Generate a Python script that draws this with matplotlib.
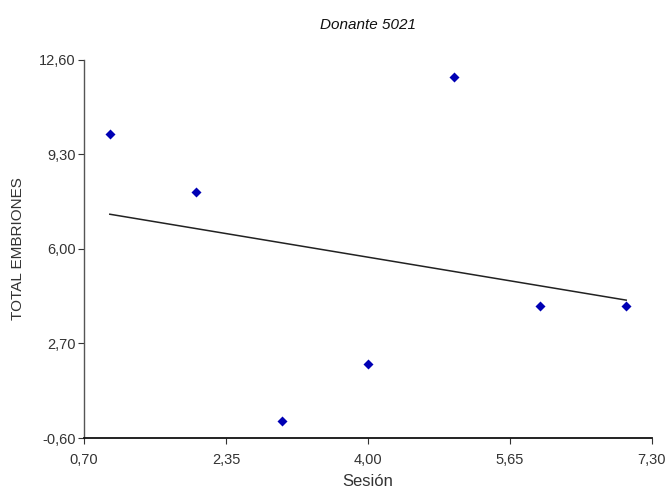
import numpy as np
import matplotlib
matplotlib.use("Agg")
import matplotlib.pyplot as plt

plt.rcParams['font.family'] = ['Liberation Sans', 'DejaVu Sans']

sesion = [1, 2, 3, 4, 5, 6, 7]
total_embriones = [10, 8, 0, 2, 12, 4, 4]
x_ticks = [0.70, 2.35, 4.00, 5.65, 7.30]
y_ticks = [-0.60, 2.70, 6.00, 9.30, 12.60]
title = "Donante 5021"

fig = plt.figure(figsize=(6.65, 4.9), dpi=100)
ax = fig.add_axes([84/665, 1-438/490, (652-84)/665, (438-60)/490])

ax.scatter(sesion, total_embriones, marker='D', s=26, color='#0000b4', zorder=3, linewidths=0)

coef = np.polyfit(sesion, total_embriones, 1)
xl = np.array([min(sesion), max(sesion)])
ax.plot(xl, np.polyval(coef, xl), color='#222222', lw=1.1)

ax.set_xlim(x_ticks[0], x_ticks[-1])
ax.set_ylim(y_ticks[0], y_ticks[-1])
ax.set_xticks(x_ticks)
ax.set_yticks(y_ticks)
fmt = lambda v: f"{v:.2f}".replace('.', ',')
ax.set_xticklabels([fmt(v) for v in x_ticks])
ax.set_yticklabels([fmt(v) for v in y_ticks])

for s in ['top', 'right']:
    ax.spines[s].set_visible(False)
ax.spines['left'].set_color('#555555')
ax.spines['left'].set_linewidth(1.0)
ax.spines['bottom'].set_color('#111111')
ax.spines['bottom'].set_linewidth(1.3)
ax.tick_params(axis='both', labelsize=10.5, colors='#333333', length=4, pad=2)
ax.tick_params(axis='x', pad=7)

ax.set_xlabel("Sesión", fontsize=12, color='#333333', labelpad=5)
ax.set_ylabel("TOTAL EMBRIONES", fontsize=11, color='#333333', labelpad=10)
fig.text((84+652)/2/665, 1-25/490, title, fontsize=11, style='italic', color='#111111', ha='center', va='center')

fig.savefig("out.png", dpi=100)
